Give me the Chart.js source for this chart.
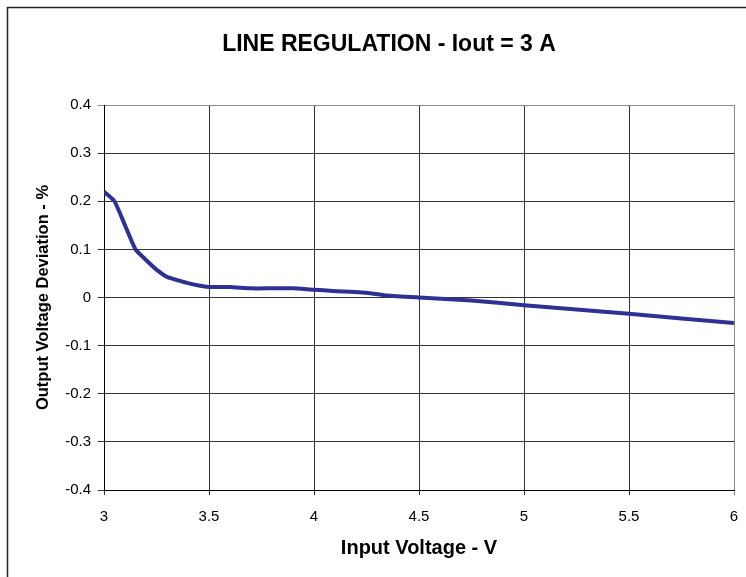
<!DOCTYPE html>
<html>
<head>
<meta charset="utf-8">
<script src="https://cdn.jsdelivr.net/npm/chart.js@4.4.1/dist/chart.umd.min.js"></script>
<style>
  body { margin: 0; background: #fff; }
  canvas { display: block; }
</style>
</head>
<body>
<canvas id="chart" width="746" height="577"></canvas>
<script>
// input voltage (V) and output deviation (%)
const inputVoltage = [3.0, 3.05, 3.1, 3.15, 3.2, 3.25, 3.3, 3.4, 3.45, 3.5, 3.6, 3.7, 3.8, 3.9, 4.0, 4.25, 4.35, 4.5, 4.75, 5.0, 5.5, 6.0];
const deviation = [0.22, 0.20, 0.15, 0.10, 0.078, 0.058, 0.043, 0.03, 0.025, 0.022, 0.022, 0.019, 0.019, 0.019, 0.016, 0.01, 0.004, 0.0, -0.006, -0.016, -0.034, -0.053];
const xTicks = ['3', '3.5', '4', '4.5', '5', '5.5', '6'];
const yTicks = ['-0.4', '-0.3', '-0.2', '-0.1', '0', '0.1', '0.2', '0.3', '0.4'];
const chartTitle = 'LINE REGULATION - Iout = 3 A';

const FONT = "'Liberation Sans', Arial, sans-serif";

// white background, the outer frame (top and left edges show) and the title
const frame = {
	id: 'frame',
	beforeDraw(chart) {
		const c = chart.ctx;
		c.save();
		c.fillStyle = '#fff';
		c.fillRect(0, 0, chart.width, chart.height);
		c.strokeStyle = '#222';
		c.lineWidth = 1.5;
		c.beginPath();
		c.moveTo(7.5, chart.height + 2);
		c.lineTo(7.5, 7.5);
		c.lineTo(chart.width + 2, 7.5);
		c.stroke();

		const a = chart.chartArea;
		c.fillStyle = '#000';
		c.font = 'bold 23px ' + FONT;
		c.textAlign = 'center';
		c.textBaseline = 'middle';
		c.fillText(chartTitle, (a.left + a.right) / 2 - 30, 45);
		c.restore();
	}
};

const points = inputVoltage.map((v, i) => ({ x: v, y: deviation[i] }));

new Chart(document.getElementById('chart'), {
	type: 'line',
	data: {
		datasets: [{
			data: points,
			borderColor: '#2e3192',
			borderWidth: 4,
			pointRadius: 0,
			tension: 0.15,
			fill: false
		}]
	},
	options: {
		responsive: false,
		animation: false,
		layout: { padding: { left: 0, right: 12, top: 105, bottom: 0 } },
		plugins: {
			legend: { display: false },
			tooltip: { enabled: false },
			title: { display: false }
		},
		scales: {
			x: {
				type: 'linear',
				min: 3,
				max: 6,
				afterFit: s => { s.height = 87; s.paddingLeft = 0; s.paddingRight = 0; },
				afterBuildTicks: s => { s.ticks = xTicks.map(t => ({ value: parseFloat(t) })); },
				ticks: {
					color: '#000',
					font: { family: FONT, size: 15 },
					padding: 13,
					maxRotation: 0,
					callback: (v, i) => xTicks[i]
				},
				grid: {
					color: c => (c.tick && c.tick.value === 6 ? '#8a8a8a' : '#333'),
					lineWidth: 1,
					tickLength: 5
				},
				border: { color: '#000', width: 1 },
				title: {
					display: true,
					text: 'Input Voltage - V',
					color: '#000',
					font: { family: FONT, size: 20, weight: 'bold', lineHeight: 1.2 },
					padding: { top: 0, bottom: 17 }
				}
			},
			y: {
				type: 'linear',
				min: -0.4,
				max: 0.4,
				afterFit: s => { s.width = 104; s.paddingTop = 0; s.paddingBottom = 0; },
				afterBuildTicks: s => { s.ticks = yTicks.map(t => ({ value: parseFloat(t) })); },
				ticks: {
					color: '#000',
					font: { family: FONT, size: 15 },
					padding: 7,
					callback: (v, i) => yTicks[i]
				},
				grid: {
					color: c => (c.tick && c.tick.value === 0.4 ? '#8a8a8a' : '#333'),
					lineWidth: 1,
					tickLength: 6
				},
				border: { color: '#000', width: 1 },
				title: {
					display: true,
					text: 'Output Voltage Deviation - %',
					color: '#000',
					font: { family: FONT, size: 16.5, weight: 'bold', lineHeight: 1.2 },
					padding: { top: 34, bottom: 0 }
				}
			}
		}
	},
	plugins: [frame]
});
</script>
</body>
</html>
